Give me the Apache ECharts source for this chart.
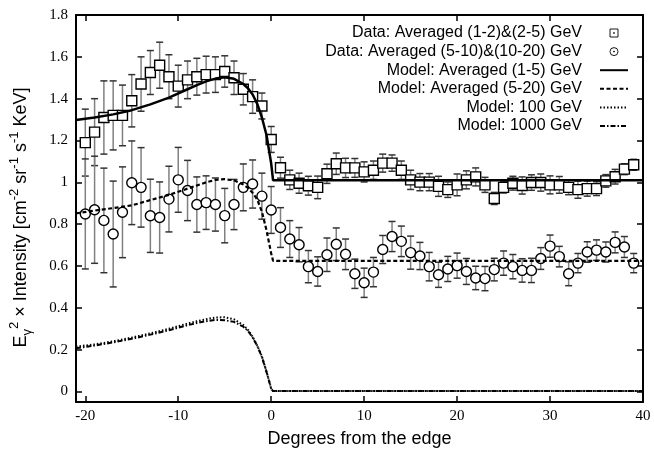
<!DOCTYPE html>
<html>
<head>
<meta charset="utf-8">
<script src="https://cdn.jsdelivr.net/npm/echarts@6/dist/echarts.min.js"></script>
<style>
  html, body { margin: 0; padding: 0; background: #fff; }
  #chart { width: 654px; height: 453px; }
</style>
</head>
<body>
<div id="chart"></div>
<script>
// Bin centres (degrees from the edge)
const degrees = [-20, -19, -18, -17, -16, -15, -14, -13, -12, -11, -10, -9, -8, -7, -6, -5, -4, -3, -2, -1,
  0, 1, 2, 3, 4, 5, 6, 7, 8, 9, 10, 11, 12, 13, 14, 15, 16, 17, 18, 19,
  20, 21, 22, 23, 24, 25, 26, 27, 28, 29, 30, 31, 32, 33, 34, 35, 36, 37, 38, 39];

// Data: averaged (1-2)&(2-5) GeV
const lowFlux = [1.19, 1.24, 1.31, 1.32, 1.32, 1.39, 1.47, 1.525, 1.56, 1.505, 1.46, 1.49, 1.505, 1.515, 1.515, 1.53, 1.50, 1.445, 1.41, 1.365,
  1.205, 1.07, 1.012, 0.996, 0.984, 0.976, 1.041, 1.089, 1.069, 1.069, 1.05, 1.058, 1.092, 1.092, 1.058, 1.012, 1.001, 1.001, 0.981, 0.965,
  0.988, 1.012, 1.026, 0.988, 0.923, 0.976, 0.996, 0.985, 0.999, 0.999, 0.988, 0.988, 0.976, 0.965, 0.97, 0.97, 1.007, 1.027, 1.063, 1.084];
const lowErr = [0.16, 0.16, 0.175, 0.165, 0.145, 0.125, 0.13, 0.105, 0.11, 0.105, 0.1, 0.09, 0.088, 0.088, 0.085, 0.075, 0.08, 0.075, 0.08, 0.062,
  0.062, 0.05, 0.046, 0.048, 0.045, 0.054, 0.046, 0.051, 0.046, 0.045, 0.048, 0.044, 0.043, 0.039, 0.044, 0.046, 0.041, 0.041, 0.048, 0.037,
  0.052, 0.043, 0.043, 0.036, 0.029, 0.027, 0.033, 0.041, 0.037, 0.041, 0.043, 0.04, 0.035, 0.041, 0.036, 0.033, 0.03, 0.035, 0.026, 0.026];

// Data: averaged (5-10)&(10-20) GeV
const highFlux = [0.849, 0.869, 0.818, 0.753, 0.857, 0.998, 0.976, 0.84, 0.832, 0.92, 1.012, 0.961, 0.894, 0.903, 0.894, 0.841, 0.894, 0.976, 0.992, 0.934,
  0.868, 0.784, 0.729, 0.702, 0.597, 0.574, 0.654, 0.704, 0.656, 0.563, 0.52, 0.571, 0.679, 0.741, 0.718, 0.664, 0.648, 0.597, 0.558, 0.586,
  0.602, 0.574, 0.543, 0.54, 0.583, 0.614, 0.597, 0.579, 0.579, 0.636, 0.695, 0.645, 0.563, 0.614, 0.667, 0.676, 0.667, 0.713, 0.691, 0.614];
const highErr = [0.263, 0.256, 0.25, 0.253, 0.217, 0.2, 0.19, 0.175, 0.17, 0.157, 0.155, 0.144, 0.132, 0.128, 0.127, 0.13, 0.12, 0.112, 0.115, 0.11,
  0.112, 0.095, 0.088, 0.082, 0.077, 0.07, 0.08, 0.078, 0.073, 0.07, 0.07, 0.07, 0.067, 0.072, 0.073, 0.079, 0.065, 0.068, 0.06, 0.06,
  0.06, 0.062, 0.056, 0.058, 0.054, 0.058, 0.058, 0.056, 0.058, 0.052, 0.053, 0.049, 0.057, 0.046, 0.049, 0.049, 0.048, 0.05, 0.05, 0.046];

// Model curves
const modelDegrees = [-21, -19, -17, -15, -13, -11, -9, -8, -7, -6, -5, -4, -3, -2.5, -2, -1.5, -1, -0.5, 0, 0.2, 40];
const modelLow = [1.298, 1.31, 1.325, 1.345, 1.373, 1.405, 1.445, 1.465, 1.483, 1.496, 1.502, 1.495, 1.47, 1.45, 1.42, 1.375, 1.31, 1.225, 1.09, 1.01, 1.01];
const modelHigh = [0.852, 0.865, 0.877, 0.89, 0.915, 0.94, 0.97, 0.985, 1.0, 1.012, 1.015, 1.01, 0.99, 0.973, 0.95, 0.918, 0.86, 0.77, 0.66, 0.625, 0.625];
const model100 = [0.215, 0.225, 0.24, 0.258, 0.278, 0.3, 0.325, 0.336, 0.346, 0.354, 0.355, 0.345, 0.318, 0.295, 0.262, 0.22, 0.168, 0.095, 0.015, 0.002, 0.002];
const model1000 = [0.207, 0.22, 0.235, 0.252, 0.272, 0.293, 0.317, 0.328, 0.336, 0.342, 0.341, 0.333, 0.31, 0.29, 0.258, 0.218, 0.165, 0.093, 0.013, 0.002, 0.002];

const xTicks = [-20, -10, 0, 10, 20, 30, 40];
const yTicks = [0, 0.2, 0.4, 0.6, 0.8, 1, 1.2, 1.4, 1.6, 1.8];

const serif = '"Liberation Serif", "Times New Roman", serif';
const sans = '"Liberation Sans", Arial, sans-serif';

const chart = echarts.init(document.getElementById('chart'));

const pairs = (xs, ys) => xs.map((x, i) => [x, ys[i]]);
const errRows = (vals, errs) => degrees.map((x, i) => [x, vals[i] - errs[i], vals[i] + errs[i]]);

// gnuplot-style error bar: grey stem, dark caps
function renderErr(params, api) {
  const top = api.coord([api.value(0), api.value(2)]);
  const bot = api.coord([api.value(0), api.value(1)]);
  const w = 3.5;
  return {
    type: 'group',
    children: [
      { type: 'line', shape: { x1: top[0], y1: top[1], x2: bot[0], y2: bot[1] }, style: { stroke: '#808080', lineWidth: 1.5 } },
      { type: 'line', shape: { x1: top[0] - w, y1: top[1], x2: top[0] + w, y2: top[1] }, style: { stroke: '#333', lineWidth: 1.5 } },
      { type: 'line', shape: { x1: bot[0] - w, y1: bot[1], x2: bot[0] + w, y2: bot[1] }, style: { stroke: '#333', lineWidth: 1.5 } }
    ]
  };
}

const frameAxis = {
  axisLine: { show: true, onZero: false, lineStyle: { color: '#000', width: 2 } },
  splitLine: { show: false }
};

const names = [
  'Data: Averaged (1-2)&(2-5) GeV',
  'Data: Averaged (5-10)&(10-20) GeV',
  'Model: Averaged (1-5) GeV',
  'Model: Averaged (5-20) GeV',
  'Model: 100 GeV',
  'Model: 1000 GeV'
];

// legend symbols: small open square / circle with a centre dot
const squareIcon = 'path://M0,0H10V10H0Z M4.5,4.5H5.5V5.5H4.5Z';
const circleIcon = 'path://M5,0A5,5 0 1 1 5,10A5,5 0 1 1 5,0Z M4.5,4.5H5.5V5.5H4.5Z';
const thinIcon = { color: '#fff', borderColor: '#000', borderWidth: 0.9 };
const noDot = { opacity: 0 };

const option = {
  animation: false,
  backgroundColor: '#fff',
  grid: { left: 76, right: 11, top: 15, bottom: 39, containLabel: false },
  legend: {
    orient: 'vertical',
    right: 20,
    top: 20,
    align: 'right',
    itemWidth: 28,
    itemHeight: 8,
    itemGap: 2.6,
    selectedMode: false,
    textStyle: { fontFamily: sans, fontSize: 16, color: '#000', padding: [0, 13, 0, 0] },
    data: [
      { name: names[0], icon: squareIcon, itemStyle: thinIcon },
      { name: names[1], icon: circleIcon, itemStyle: thinIcon },
      { name: names[2], itemStyle: noDot },
      { name: names[3], itemStyle: noDot },
      { name: names[4], itemStyle: noDot },
      { name: names[5], itemStyle: noDot }
    ]
  },
  xAxis: [
    {
      type: 'value', min: -21, max: 40, position: 'bottom',
      ...frameAxis,
      name: 'Degrees from the edge', nameLocation: 'middle', nameGap: 28,
      nameTextStyle: { fontFamily: sans, fontSize: 18, color: '#000' },
      axisTick: { show: true, inside: true, length: 6, customValues: xTicks, lineStyle: { color: '#000', width: 1.5 } },
      axisLabel: { customValues: xTicks, margin: 7, fontFamily: serif, fontSize: 15, color: '#000' }
    },
    {
      type: 'value', min: -21, max: 40, position: 'top',
      ...frameAxis,
      axisTick: { show: true, inside: true, length: 6, customValues: xTicks, lineStyle: { color: '#000', width: 1.5 } },
      axisLabel: { show: false }
    }
  ],
  yAxis: [
    {
      type: 'value', min: -0.05, max: 1.8, position: 'left',
      ...frameAxis,
      name: '{b|E}{sub|γ}{sup|2}{b| × Intensity [cm}{sup|-2}{b| sr}{sup|-1}{b| s}{sup|-1}{b| KeV]}',
      nameLocation: 'middle', nameRotate: 90, nameGap: 42,
      nameTextStyle: {
        fontFamily: sans, fontSize: 18, color: '#000',
        padding: [0, 18, 0, 0],
        rich: {
          b: { fontFamily: sans, fontSize: 18, color: '#000', lineHeight: 26, verticalAlign: 'middle' },
          sup: { fontFamily: sans, fontSize: 13, color: '#000', lineHeight: 26, verticalAlign: 'top', padding: [0, 0, 8, 0] },
          sub: { fontFamily: sans, fontSize: 13, color: '#000', lineHeight: 26, verticalAlign: 'bottom', padding: [8, 0, 0, 0] }
        }
      },
      axisTick: { show: true, inside: true, length: 6, customValues: yTicks, lineStyle: { color: '#000', width: 1.5 } },
      axisLabel: {
        customValues: yTicks, margin: 8, fontFamily: serif, fontSize: 15, color: '#000',
        formatter: (v) => String(+v.toFixed(1))
      }
    },
    {
      type: 'value', min: -0.05, max: 1.8, position: 'right',
      ...frameAxis,
      axisTick: { show: true, inside: true, length: 6, customValues: yTicks, lineStyle: { color: '#000', width: 1.5 } },
      axisLabel: { show: false }
    }
  ],
  series: [
    {
      type: 'custom', z: 2, silent: true,
      renderItem: renderErr,
      encode: { x: 0, y: [1, 2] },
      data: errRows(lowFlux, lowErr)
    },
    {
      type: 'custom', z: 2, silent: true,
      renderItem: renderErr,
      encode: { x: 0, y: [1, 2] },
      data: errRows(highFlux, highErr)
    },
    {
      name: names[0], type: 'scatter', z: 3,
      symbol: 'rect', symbolSize: 10,
      itemStyle: { color: '#fff', borderColor: '#000', borderWidth: 1.4, opacity: 1 },
      data: pairs(degrees, lowFlux)
    },
    {
      name: names[1], type: 'scatter', z: 3,
      symbol: 'circle', symbolSize: 10,
      itemStyle: { color: '#fff', borderColor: '#000', borderWidth: 1.4, opacity: 1 },
      data: pairs(degrees, highFlux)
    },
    {
      name: names[2], type: 'line', z: 4, symbol: 'none',
      itemStyle: { color: '#000' },
      lineStyle: { color: '#000', width: 2.5, type: 'solid' },
      data: pairs(modelDegrees, modelLow)
    },
    {
      name: names[3], type: 'line', z: 4, symbol: 'none',
      itemStyle: { color: '#000' },
      lineStyle: { color: '#000', width: 2.2, type: [4, 2.5] },
      data: pairs(modelDegrees, modelHigh)
    },
    {
      name: names[4], type: 'line', z: 4, symbol: 'none',
      itemStyle: { color: '#000' },
      lineStyle: { color: '#000', width: 2, type: [1.5, 2] },
      data: pairs(modelDegrees, model100)
    },
    {
      name: names[5], type: 'line', z: 4, symbol: 'none',
      itemStyle: { color: '#000' },
      lineStyle: { color: '#000', width: 2, type: [5, 2, 1.5, 2] },
      data: pairs(modelDegrees, model1000)
    }
  ]
};

chart.setOption(option);
</script>
</body>
</html>
